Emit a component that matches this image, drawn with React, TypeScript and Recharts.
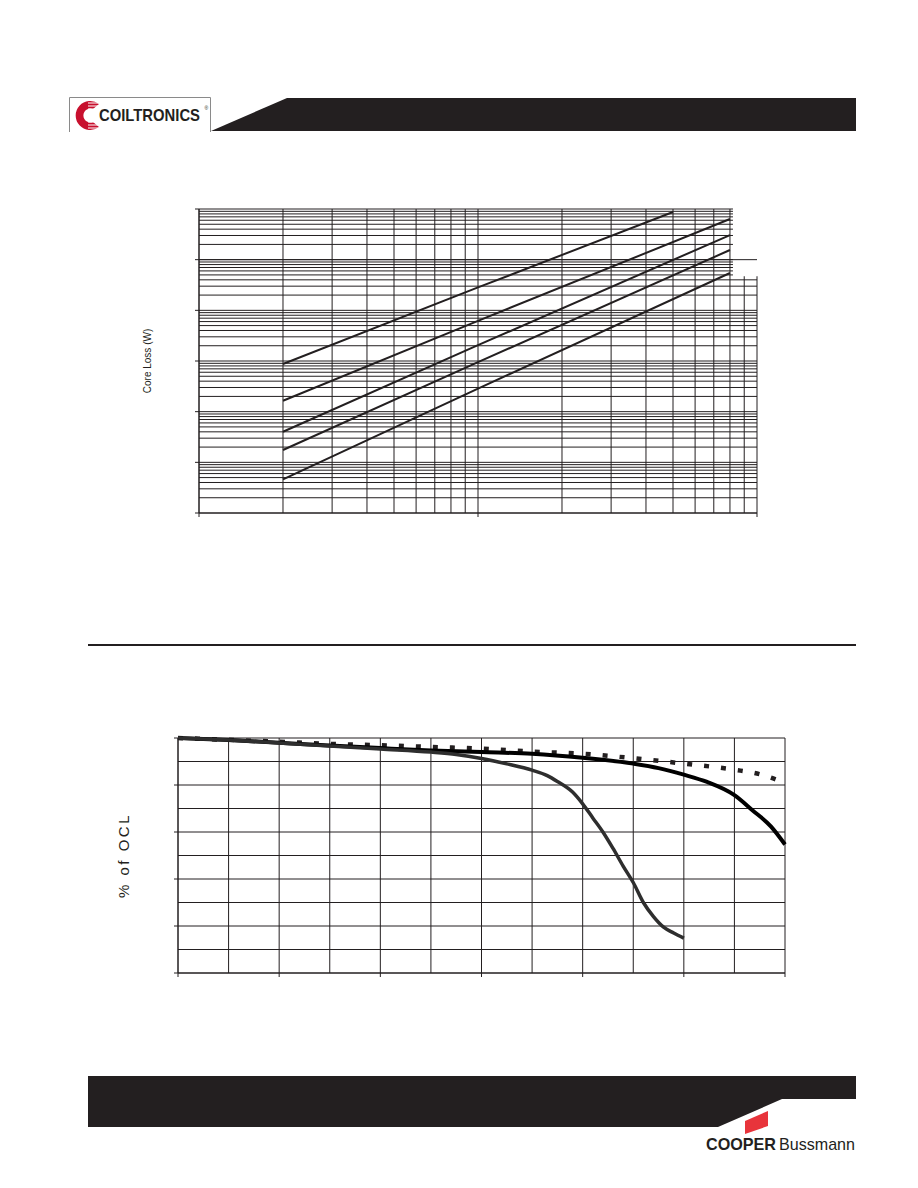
import React from 'react';
import { LineChart, Line, XAxis, YAxis, CartesianGrid, ReferenceArea, ReferenceLine } from 'recharts';

const INK = '#231f20';

// core loss chart, log-log
const lossDecadesX = [10, 100, 1000];
const lossDecadesY = [0.001, 0.01, 0.1, 1, 10, 100, 1000];
const logSteps = [1, 2, 3, 4, 5, 6, 7, 8, 9];

const lossXShort = [20, 100, 500];
const lossXLong = [20, 100, 800];
const loss1 = [0.873, 28.3, 873];
const loss2 = [0.164, 6.21, 634];
const loss3 = [0.0402, 2.05, 306];
const loss4 = [0.0175, 0.95, 155];
const loss5 = [0.00462, 0.285, 54.5];

// % of OCL chart
const oclXTicks = [0, 10, 20, 30, 40, 50, 60, 70, 80, 90, 100, 110, 120];
const oclXMajor = [0, 20, 40, 60, 80, 100, 120];
const oclYTicks = [0, 10, 20, 30, 40, 50, 60, 70, 80, 90, 100];
const oclYMajor = [0, 20, 40, 60, 80, 100];

const solidX = [0, 10, 20, 30, 40, 50, 60, 70, 80, 90, 95, 100, 104.6, 110, 113.5, 117.2, 120];
const solidY = [100, 99.2, 98.0, 96.8, 95.7, 94.7, 94.0, 93.3, 91.6, 89.1, 87.2, 84.4, 81.3, 75.7, 69.4, 62.4, 54.7];

const dottedX = [0, 20, 30, 40, 50, 60, 70, 80, 90, 100, 110, 115, 120];
const dottedY = [100, 98.4, 97.5, 96.9, 96.2, 95.5, 94.2, 93.3, 91.4, 89.1, 86.5, 84.6, 80.9];

const steepX = [0, 10, 20, 30, 40, 50, 55, 60, 65, 70, 73, 75, 78, 80, 82, 84, 86, 88, 90, 92, 94, 96, 98, 100];
const steepY = [100, 99.1, 97.9, 96.6, 95.3, 94.0, 93.0, 91.3, 89.0, 86.3, 84.0, 81.5, 77.0, 72.0, 66.0, 60.0, 53.0, 45.5, 38.5, 30.0, 24.0, 19.5, 17.0, 14.8];

const logTicks = (decades: number[]) => {
  const out: number[] = [];
  decades.slice(0, -1).forEach((d) => logSteps.forEach((s) => out.push(d * s)));
  out.push(decades[decades.length - 1]);
  return out;
};

const pairs = (xs: number[], ys: number[]) => xs.map((x, i) => ({ x, y: ys[i] }));

const xTick = (majors: number[]) => (p: any) =>
  majors.includes(p.payload.value) ? (
    <line x1={p.x} y1={p.y} x2={p.x} y2={p.y + 4} stroke={INK} strokeWidth={1} />
  ) : (
    <g />
  );

const yTick = (majors: number[]) => (p: any) =>
  majors.includes(p.payload.value) ? (
    <line x1={p.x - 4} y1={p.y} x2={p.x} y2={p.y} stroke={INK} strokeWidth={1} />
  ) : (
    <g />
  );

const sideLabel = (text: string, dx: number, style: React.CSSProperties) => (p: any) => {
  const vb = p.viewBox;
  const cx = vb.x + vb.width - dx;
  const cy = vb.y + vb.height / 2;
  return (
    <text
      x={cx}
      y={cy}
      transform={`rotate(-90 ${cx} ${cy})`}
      textAnchor="middle"
      dominantBaseline="central"
      style={style}
    >
      {text}
    </text>
  );
};

const CoreLossChart = () => {
  const xt = logTicks(lossDecadesX);
  const yt = logTicks(lossDecadesY);
  const series = [
    pairs(lossXShort, loss1),
    pairs(lossXLong, loss2),
    pairs(lossXLong, loss3),
    pairs(lossXLong, loss4),
    pairs(lossXLong, loss5),
  ];
  return (
    <LineChart width={647} height={344} margin={{ top: 10, right: 10, left: 39, bottom: 10 }}>
      <CartesianGrid stroke={INK} strokeWidth={1} />
      <XAxis
        type="number"
        dataKey="x"
        scale="log"
        domain={[10, 1000]}
        ticks={xt}
        interval={0}
        allowDataOverflow
        height={20}
        tickSize={0}
        tickMargin={0}
        tickLine={false}
        axisLine={{ stroke: INK }}
        tick={xTick(lossDecadesX)}
      />
      <YAxis
        type="number"
        dataKey="y"
        scale="log"
        domain={[0.001, 1000]}
        ticks={yt}
        interval={0}
        allowDataOverflow
        width={40}
        tickSize={0}
        tickMargin={0}
        tickLine={false}
        axisLine={{ stroke: INK }}
        tick={yTick(lossDecadesY)}
        label={{
          content: sideLabel('Core Loss (W)', 52, { fontSize: 10, fill: INK, fontFamily: '"Liberation Sans", Arial, sans-serif' }),
        }}
      />
      {/* blank patch where the legend used to sit */}
      <ReferenceArea
        x1={820}
        x2={1100}
        y1={47}
        y2={1400}
        fill="#fff"
        fillOpacity={1}
        stroke="none"
        strokeWidth={0}
        ifOverflow="visible"
      />
      <ReferenceLine y={100} stroke={INK} strokeWidth={1} />
      {series.map((d, i) => (
        <Line
          key={i}
          data={d}
          dataKey="y"
          type="linear"
          stroke={INK}
          strokeWidth={2}
          dot={false}
          isAnimationActive={false}
        />
      ))}
    </LineChart>
  );
};

const OclChart = () => (
  <LineChart width={705} height={275} margin={{ top: 10, right: 10, left: 48, bottom: 10 }}>
    <CartesianGrid stroke={INK} strokeWidth={1} />
    <XAxis
      type="number"
      dataKey="x"
      domain={[0, 120]}
      ticks={oclXTicks}
      interval={0}
      height={20}
      tickSize={0}
      tickMargin={0}
      tickLine={false}
      axisLine={{ stroke: INK }}
      tick={xTick(oclXMajor)}
    />
    <YAxis
      type="number"
      dataKey="y"
      domain={[0, 100]}
      ticks={oclYTicks}
      interval={0}
      width={40}
      tickSize={0}
      tickMargin={0}
      tickLine={false}
      axisLine={{ stroke: INK }}
      tick={yTick(oclYMajor)}
      label={{
        content: sideLabel('% of OCL', 55, {
          fontSize: 15,
          letterSpacing: 2.5,
          fill: INK,
          fontFamily: '"Liberation Sans", Arial, sans-serif',
        }),
      }}
    />
    <Line
      data={pairs(dottedX, dottedY)}
      dataKey="y"
      type="monotone"
      stroke={INK}
      strokeWidth={4.5}
      strokeDasharray="5 12"
      dot={false}
      isAnimationActive={false}
    />
    <Line
      data={pairs(solidX, solidY)}
      dataKey="y"
      type="monotone"
      stroke="#000"
      strokeWidth={4}
      dot={false}
      isAnimationActive={false}
    />
    <Line
      data={pairs(steepX, steepY)}
      dataKey="y"
      type="monotone"
      stroke="#2e2e2e"
      strokeWidth={3.5}
      dot={false}
      isAnimationActive={false}
    />
  </LineChart>
);

export default function App() {
  return (
    <div
      style={{
        position: 'absolute',
        left: 0,
        top: 0,
        width: 918,
        height: 1188,
        background: '#fff',
        fontFamily: '"Liberation Sans", Arial, sans-serif',
      }}
    >
      <svg width={918} height={1188} style={{ position: 'absolute', left: 0, top: 0 }}>
        {/* header */}
        <path d="M69.5 132 V97.5 H210.5 V132" fill="none" stroke="#8a8a8a" strokeWidth={1} />
        <polygon points="211,131 287,98 856,98 856,131" fill={INK} />
        <path
          d="M99 104 A14.5 14.5 0 1 0 99 127 L93 122 A7 7 0 1 1 93 109 Z"
          fill="#c8102e"
        />
        {[103, 106, 109, 122, 125, 128].map((y) => (
          <line key={y} x1={88} y1={y} x2={101} y2={y} stroke="#fff" strokeWidth={1} />
        ))}
        <g transform="translate(99 121) scale(1 1.2)">
          <text
            x={0}
            y={0}
            fontFamily='"Liberation Sans Narrow", "Liberation Sans", Arial'
            fontWeight={700}
            fontSize={14}
            textLength={101}
            lengthAdjust="spacingAndGlyphs"
            fill={INK}
          >
            COILTRONICS
          </text>
        </g>
        <text x={204.5} y={110} fontSize={5} fill={INK}>
          ®
        </text>

        {/* divider */}
        <rect x={88} y={644} width={768} height={2} fill={INK} />

        {/* footer */}
        <polygon points="88,1076 856,1076 856,1099 782,1099 718,1127 88,1127" fill={INK} />
        <polygon points="745,1121 768,1111 768,1126 745,1134" fill="#e8343b" />
        <text
          x={706}
          y={1150}
          fontFamily='"Liberation Sans Narrow", "Liberation Sans", Arial'
          fontWeight={700}
          fontSize={17}
          textLength={70}
          lengthAdjust="spacingAndGlyphs"
          fill={INK}
        >
          COOPER
        </text>
        <text
          x={779}
          y={1150}
          fontFamily='"Liberation Sans Narrow", "Liberation Sans", Arial'
          fontSize={17}
          textLength={76}
          lengthAdjust="spacingAndGlyphs"
          fill={INK}
        >
          Bussmann
        </text>
      </svg>

      <div style={{ position: 'absolute', left: 120, top: 199 }}>
        <CoreLossChart />
      </div>
      <div style={{ position: 'absolute', left: 90, top: 728 }}>
        <OclChart />
      </div>
    </div>
  );
}
